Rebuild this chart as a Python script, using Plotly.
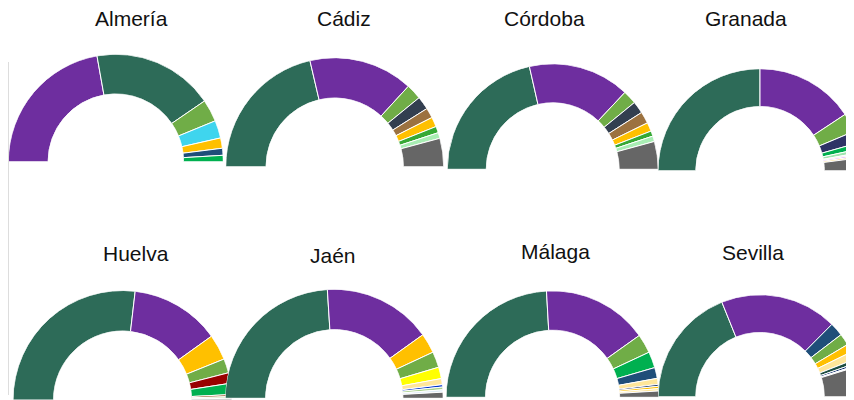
import plotly.graph_objects as go

# ---------------- data ----------------
PROVINCES = ["Almería", "Cádiz", "Córdoba", "Granada", "Huelva", "Jaén", "Málaga", "Sevilla"]

ALMERIA_VALUES = [44.4, 36.5, 6.7, 5.3, 3.1, 2.1, 1.9]
CADIZ_VALUES = [42.7, 30.9, 4.6, 3.9, 3.0, 2.9, 1.9, 1.7, 8.4]
CORDOBA_VALUES = [42.9, 31.1, 4.2, 3.7, 3.6, 2.7, 1.6, 1.7, 8.5]
GRANADA_VALUES = [50.0, 31.4, 6.0, 3.8, 1.9, 1.2, 0.5, 0.5, 0.6, 4.1]
HUELVA_VALUES = [53.7, 26.5, 7.6, 4.2, 3.1, 3.3, 0.6, 0.5, 0.5]
JAEN_VALUES = [48.0, 32.2, 5.9, 4.7, 3.4, 1.8, 0.7, 0.8, 0.7, 1.8]
MALAGA_VALUES = [48.2, 32.1, 5.8, 4.9, 3.3, 1.8, 0.6, 0.7, 0.7, 1.9]
SEVILLA_VALUES = [37.8, 37.1, 4.3, 3.7, 2.6, 2.5, 1.3, 0.7, 0.4, 9.6]

# ---------------- styles ----------------
DKGREEN = "#2D6B58"
PURPLE = "#6E2E9F"
OLIVE = "#70AD47"
CYAN = "#3FD5EE"
GOLD = "#FFC000"
NAVY = "#1F4E79"
GREEN = "#00B050"
SLATE = "#333F50"
BROWN = "#9C7240"
BGREEN = "#36A935"
LGREEN = "#A8EDB3"
GRAY = "#666666"

ALMERIA_COLORS = [PURPLE, DKGREEN, OLIVE, CYAN, GOLD, NAVY, GREEN]
CADIZ_COLORS = [DKGREEN, PURPLE, OLIVE, SLATE, BROWN, GOLD, BGREEN, LGREEN, GRAY]
CORDOBA_COLORS = [DKGREEN, PURPLE, OLIVE, SLATE, BROWN, GOLD, BGREEN, LGREEN, GRAY]
GRANADA_COLORS = [DKGREEN, PURPLE, OLIVE, "#2E3266", GREEN, "#A0E5B0", "#E2F0D9", "#CC66FF", "#FFD966", GRAY]
HUELVA_COLORS = [DKGREEN, PURPLE, GOLD, OLIVE, "#990000", GREEN, "#8B4513", "#C9E7B8", "#A6A6A6"]
JAEN_COLORS = [DKGREEN, PURPLE, GOLD, OLIVE, "#FFFF00", "#FFE699", "#0033CC", "#A9D18E", "#DDEBF7", GRAY]
MALAGA_COLORS = [DKGREEN, PURPLE, OLIVE, GREEN, NAVY, "#FFE699", "#203864", GOLD, "#FFE699", GRAY]
SEVILLA_COLORS = [DKGREEN, PURPLE, NAVY, OLIVE, GOLD, "#FFE699", "#1E4E42", "#002060", "#DDEBF7", GRAY]

ALL_VALUES = [ALMERIA_VALUES, CADIZ_VALUES, CORDOBA_VALUES, GRANADA_VALUES,
              HUELVA_VALUES, JAEN_VALUES, MALAGA_VALUES, SEVILLA_VALUES]
ALL_COLORS = [ALMERIA_COLORS, CADIZ_COLORS, CORDOBA_COLORS, GRANADA_COLORS,
              HUELVA_COLORS, JAEN_COLORS, MALAGA_COLORS, SEVILLA_COLORS]

# layout geometry in figure pixels: (center x, bottom y, radius)
W, H = 854, 400
GEOM = [
    (107.8, 153.7, 107.5),
    (326.7, 158.7, 109.0),
    (544.7, 161.3, 105.5),
    (752.0, 162.7, 102.0),
    (114.5, 392.0, 109.5),
    (326.2, 390.3, 109.0),
    (544.5, 389.3, 106.5),
    (752.0, 388.7, 102.0),
]
# title centers (figure pixels)
TITLE_POS = [(123, 11), (335.5, 11), (536, 11), (738, 11),
             (127.7, 245), (324.5, 247), (547, 243), (744.5, 244)]

fig = go.Figure()
layout_polars = {}

for i, (name, vals, cols) in enumerate(zip(PROVINCES, ALL_VALUES, ALL_COLORS)):
    total = sum(vals)
    widths = [v / total * 180.0 for v in vals]
    thetas = []
    acc = 0.0
    for w in widths:
        thetas.append(acc + w / 2)
        acc += w
    key = "polar" if i == 0 else f"polar{i + 1}"
    fig.add_trace(go.Barpolar(
        r=[1] * len(vals), theta=thetas, width=widths,
        marker=dict(color=cols, line=dict(color="white", width=1)),
        subplot=key, showlegend=False, name=name,
        hovertext=[f"{v}%" for v in vals], hoverinfo="text",
    ))
    cx, by, r = GEOM[i]
    x0 = max(0.0, (cx - r) / W)
    x1 = min(1.0, (cx + r) / W)
    y0 = max(0.0, 1 - by / H)
    y1 = min(1.0, 1 - (by - r) / H)
    layout_polars[key] = dict(
        domain=dict(x=[x0, x1], y=[y0, y1]),
        sector=[0, 180],
        hole=0.63,
        bgcolor="rgba(0,0,0,0)",
        radialaxis=dict(visible=False, range=[0, 1], showgrid=False),
        angularaxis=dict(visible=False, direction="clockwise", rotation=180,
                         showgrid=False, showline=False),
        barmode="overlay",
    )

annotations = []
for name, (tx, ty) in zip(PROVINCES, TITLE_POS):
    annotations.append(dict(
        text=name, x=tx / W, y=1 - ty / H, xref="paper", yref="paper",
        xanchor="center", yanchor="middle", showarrow=False,
        font=dict(family="Liberation Sans, Arial, sans-serif", size=21, color="#111111"),
    ))

fig.update_layout(
    width=W, height=H,
    margin=dict(l=0, r=0, t=0, b=0),
    paper_bgcolor="white", plot_bgcolor="white",
    showlegend=False,
    annotations=annotations,
    shapes=[dict(type="line", xref="paper", yref="paper",
                 x0=0.5 / W, x1=0.5 / W, y0=1 - 387 / H, y1=1 - 54 / H,
                 line=dict(color="#DDDDDD", width=1))],
    **layout_polars,
)

fig.write_html("out.html")
